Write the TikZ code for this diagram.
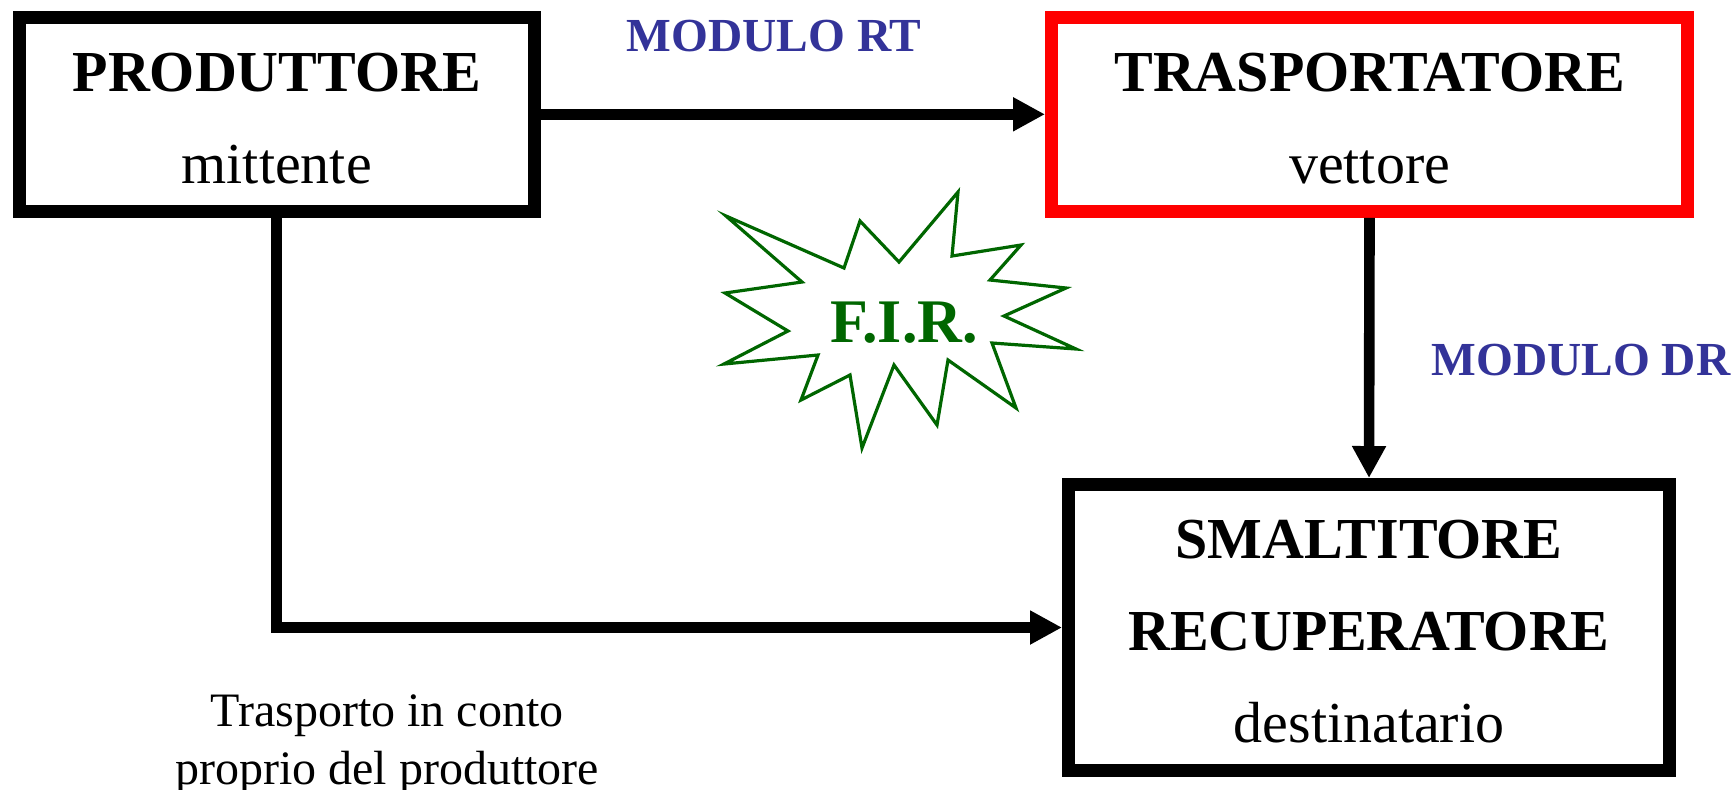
\documentclass[tikz,border=0pt]{standalone}
\usepackage{fontspec}
\setmainfont{Liberation Serif}
\usetikzlibrary{arrows.meta}
\definecolor{modblue}{RGB}{51,51,153}
\definecolor{firgreen}{RGB}{0,102,0}

\begin{document}
\begin{tikzpicture}[x=0.5pt,y=-0.5pt,
  entity/.style={draw,line width=6.5pt,align=center,inner sep=0pt,font=\fontsize{29}{46}\selectfont},
  flow/.style={line width=5.3pt,-{Triangle[length=16pt,width=16pt]}},
  modulo/.style={font=\fontsize{23.7}{28}\selectfont\bfseries,text=modblue,inner sep=0pt}]
\useasboundingbox (0,0) rectangle (1733,789);
\node[entity,minimum width=257.5pt,minimum height=97pt] (prod) at (276.7,114.3) {\rule{0pt}{23pt}\textbf{PRODUTTORE}\\mittente};
\node[entity,draw=red,minimum width=318pt,minimum height=97pt] (trasp) at (1369.5,114.3) {\rule{0pt}{23pt}\textbf{TRASPORTATORE}\\vettore};
\node[entity,minimum width=300.5pt,minimum height=143pt] (smalt) at (1369,627.5) {\rule{0pt}{23pt}\textbf{SMALTITORE}\\\textbf{RECUPERATORE}\\destinatario};
\draw[flow] (prod.east) -- (trasp.west);
\draw[flow] (trasp.south) -- (smalt.north);
\draw[flow] (prod.south) |- (smalt.west);
\node[modulo] (rt) at (774,36) {MODULO RT};
\node[modulo,anchor=west] (dr) at (1431,360) {MODULO DR};
\draw[firgreen,line width=1.6pt,line join=miter] (726,216) -- (844,268) -- (860,221) -- (899,262) -- (958,192) -- (952,256) -- (1021,245) -- (990,280) -- (1066,288) -- (1004,316) -- (1076,349) -- (992,343) -- (1016,408) -- (948,360) -- (937,425) -- (894,365) -- (862,448) -- (850,375) -- (801,400) -- (818,355) -- (724,364) -- (788,331) -- (725,293) -- (802,282) -- cycle;
\node[font=\fontsize{31}{36}\selectfont\bfseries,text=firgreen,inner sep=0pt] (fir) at (904,323) {F.I.R.};
\node[font=\fontsize{24}{29}\selectfont,align=center,inner sep=0pt] (conto) at (387,745) {Trasporto in conto\\proprio del produttore};
\end{tikzpicture}
\end{document}
